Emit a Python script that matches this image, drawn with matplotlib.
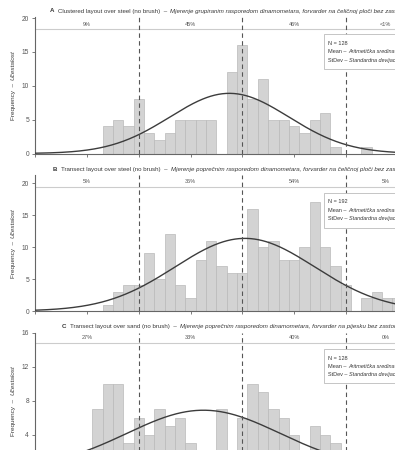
import numpy as np
import matplotlib
matplotlib.use("Agg")
import matplotlib.pyplot as plt
from matplotlib.patches import Rectangle

plt.rcParams["font.family"] = ["Liberation Sans", "DejaVu Sans"]

W, H = 395, 450

# --- data (bin centres on the shared x scale, counts per bin) ---
x_a = [1.4, 1.6, 1.8, 2.0, 2.2, 2.4, 2.6, 2.8, 3.0, 3.2, 3.4, 3.6, 3.8,
       4.0, 4.2, 4.4, 4.6, 4.8, 5.0, 5.2, 5.4, 5.6, 5.8, 6.0, 6.2, 6.4]
n_a = [4, 5, 4, 8, 3, 2, 3, 5, 5, 5, 5, 0, 12, 16, 8, 11, 5, 5, 4, 3, 5, 6, 1, 0, 0, 1]

x_b = [1.4, 1.6, 1.8, 2.0, 2.2, 2.4, 2.6, 2.8, 3.0, 3.2, 3.4, 3.6, 3.8, 4.0,
       4.2, 4.4, 4.6, 4.8, 5.0, 5.2, 5.4, 5.6, 5.8, 6.0, 6.2, 6.4, 6.6, 6.8, 7.0]
n_b = [1, 3, 4, 4, 9, 5, 12, 4, 2, 8, 11, 7, 6, 6, 16, 10, 11, 8, 8, 10, 17, 10, 7, 4, 0, 2, 3, 2, 2]

x_c = [1.2, 1.4, 1.6, 1.8, 2.0, 2.2, 2.4, 2.6, 2.8, 3.0, 3.2, 3.4,
       3.6, 3.8, 4.0, 4.2, 4.4, 4.6, 4.8, 5.0, 5.2, 5.4, 5.6, 5.8]
n_c = [7, 10, 10, 3, 6, 4, 7, 5, 6, 3, 2, 1, 7, 2, 6, 10, 9, 7, 6, 4, 1, 5, 4, 3]

N = [128, 192, 128]
means = [3.75, 4.05, 3.25]
sds = [1.15, 1.35, 1.48]
bin_w = 0.2

limits = [2, 4, 6]
pct_a = ["9%", "45%", "46%", "<1%"]
pct_b = ["5%", "36%", "54%", "5%"]
pct_c = ["27%", "33%", "40%", "0%"]

titles_en = ["Clustered layout over steel (no brush)  \u2013",
             "Transect layout over steel (no brush)  \u2013",
             "Transect layout over sand (no brush)  \u2013"]
titles_hr = ["Mjerenje grupiranim rasporedom dinamometara, forvarder na čeličnoj ploči bez zastora granjevine",
             "Mjerenje poprečnim rasporedom dinamometara, forvarder na čeličnoj ploči bez zastora granjevine",
             "Mjerenje poprečnim rasporedom dinamometara, forvarder na pijesku bez zastora granjevine"]
letters = ["A", "B", "C"]

# --- layout (pixels in the 395x450 picture) ---
ax_top = [17, 175, 332.7]
ax_bot = [153.5, 311, 469]
ylim_top = [20.15, 21.25, 16]
yticks = [[0, 5, 10, 15, 20], [0, 5, 10, 15, 20], [0, 4, 8, 12, 16]]
band_y = [18.35, 19.33, 14.84]
pct_y = [19.05, 20.25, 15.43]
title_xy = [(50, 12.5), (53, 171), (62, 328)]
box_top = [34, 192.5, 349]
box_bot = [69, 227.5, 383]
x_left_px, x_right_px = 35.3, 426
xmax = 7.55

TXT = "#383838"
GRAY = "#555555"

fig = plt.figure(figsize=(W / 100, H / 100), dpi=100)
renderer = fig.canvas.get_renderer()


def fx(px):
    return px / W


def fy(py):
    return 1 - py / H


def fit(s, target):
    # font size that makes string s about target pixels wide
    t = fig.text(0, 0, s, fontsize=10)
    w = t.get_window_extent(renderer).width
    t.remove()
    return 10 * target / w


def chain(pieces, x, y, size, gap_em=0.5, rotation=0, center=False):
    texts, sizes = [], []
    for s, style, weight in pieces:
        t = fig.text(0, 0, s, fontsize=size, style=style, weight=weight, color=TXT,
                     rotation=rotation, rotation_mode="anchor", ha="left", va="baseline")
        bb = t.get_window_extent(renderer)
        texts.append(t)
        sizes.append(bb.width if rotation == 0 else bb.height)
    gap = gap_em * size * 100 / 72
    total = sum(sizes) + gap * (len(sizes) - 1)
    if rotation == 0:
        pos = x - total / 2 if center else x
        for t, s in zip(texts, sizes):
            t.set_position((fx(pos), fy(y)))
            pos += s + gap
    else:
        pos = y + total / 2 if center else y
        for t, s in zip(texts, sizes):
            t.set_position((fx(x), fy(pos)))
            pos -= s + gap
    return texts


# the source font is narrower than Liberation Sans: size to width, then a bit larger
fs_title = 1.08 * fit("A  Clustered layout over steel (no brush)  \u2013  Mjerenje grupiranim rasporedom "
                      "dinamometara, forvarder na čeličnoj ploči bez zastora gra", 343)
fs_box = 1.1 * fit("Mean \u2013 Aritmetička sredina", 61)
fs_ylab = 1.1 * fit("Frequency  \u2013  Učestalost", 64)
fs_pct = fit("45%", 11)
fs_tick = fit("20", 7.5)

xs = np.linspace(0, xmax, 400)
data = [(x_a, n_a, pct_a), (x_b, n_b, pct_b), (x_c, n_c, pct_c)]

for i, (xv, nv, pct) in enumerate(data):
    ax = fig.add_axes([fx(x_left_px), fy(ax_bot[i]),
                       (x_right_px - x_left_px) / W, (ax_bot[i] - ax_top[i]) / H])
    ax.bar(xv, nv, width=bin_w, color="#d3d3d3", edgecolor="#b9b9b9", linewidth=0.5, zorder=1)
    curve = N[i] * bin_w / (sds[i] * np.sqrt(2 * np.pi)) * np.exp(-0.5 * ((xs - means[i]) / sds[i]) ** 2)
    ax.plot(xs, curve, color="#3c3c3c", lw=1.0, zorder=3)
    for xl in limits:
        ax.axvline(xl, color="#555555", lw=0.8, ls=(0, (4, 3)), zorder=4)
    ax.axhline(band_y[i], color="#cccccc", lw=0.8, zorder=2)
    bounds = [0] + limits + [xmax]
    for j, s in enumerate(pct):
        ax.text((bounds[j] + bounds[j + 1]) / 2, pct_y[i], s, ha="center", va="center",
                fontsize=fs_pct, color=GRAY)
    ax.set_xlim(0, xmax)
    ax.set_ylim(0, ylim_top[i])
    ax.set_xticks(range(0, 8))
    ax.set_xticklabels([])
    ax.set_yticks(yticks[i])
    ax.tick_params(axis="both", length=2.5, width=0.6, colors="#666666", labelsize=fs_tick,
                   labelcolor=GRAY, pad=2)
    for sp in ["top", "right"]:
        ax.spines[sp].set_visible(False)
    for sp in ["left", "bottom"]:
        ax.spines[sp].set_color("#666666")
        ax.spines[sp].set_linewidth(0.8)

    # panel title
    tx, ty = title_xy[i]
    chain([(letters[i], "normal", "bold"), (titles_en[i], "normal", "normal"),
           (titles_hr[i], "italic", "normal")], tx, ty, fs_title, gap_em=0.55)

    # y label, reading upwards
    mid = (ax_top[i] + ax_bot[i]) / 2
    chain([("Frequency  \u2013", "normal", "normal"), ("Učestalost", "italic", "normal")],
          15, mid, fs_ylab, gap_em=0.55, rotation=90, center=True)

    # stats box
    fig.add_artist(Rectangle((fx(324), fy(box_bot[i])), fx(80), (box_bot[i] - box_top[i]) / H,
                             transform=fig.transFigure, facecolor="white",
                             edgecolor="#bbbbbb", lw=0.6))
    lh = (box_bot[i] - box_top[i]) / 4.1
    y0 = box_top[i] + lh * 1.05 + 1.8
    chain([("N = %d" % N[i], "normal", "normal")], 328, y0, fs_box)
    chain([("Mean \u2013", "normal", "normal"), ("Aritmetička sredina", "italic", "normal"),
           ("= %.2f" % means[i], "normal", "normal")], 328, y0 + lh, fs_box, gap_em=0.3)
    chain([("StDev \u2013", "normal", "normal"), ("Standardna devijacija", "italic", "normal"),
           ("= %.2f" % sds[i], "normal", "normal")], 328, y0 + 2 * lh, fs_box, gap_em=0.3)

fig.savefig("out.png", dpi=100)
